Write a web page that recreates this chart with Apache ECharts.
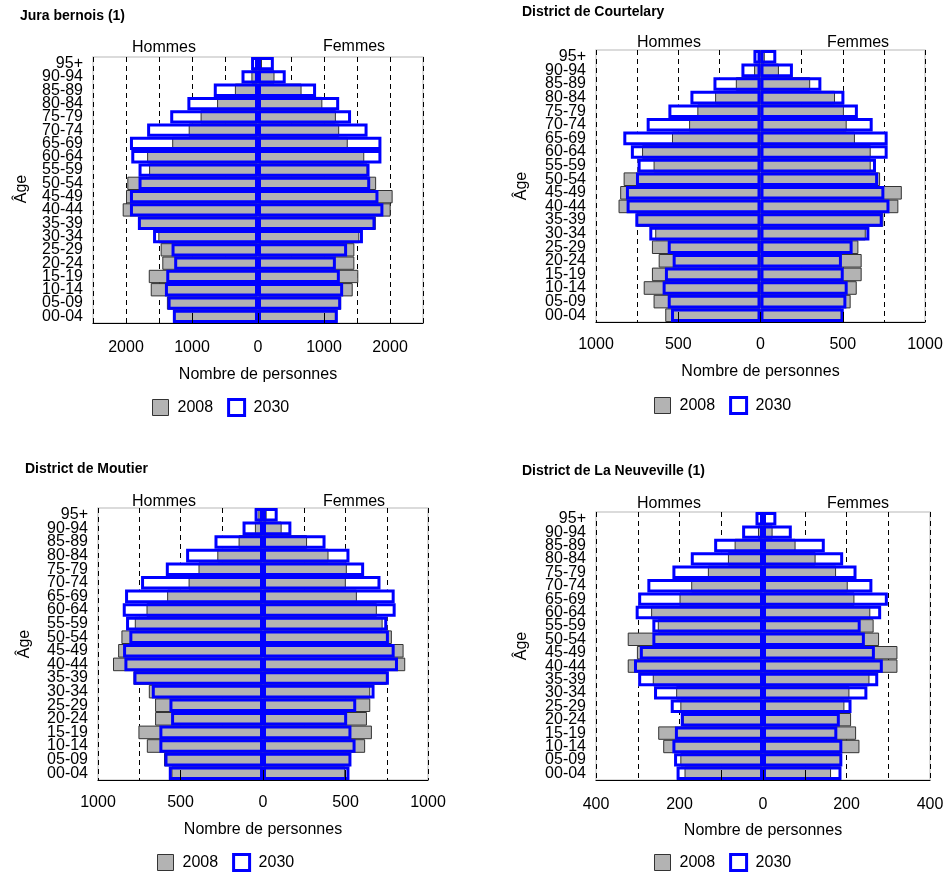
<!DOCTYPE html>
<html>
<head>
<meta charset="utf-8">
<script src="https://cdn.jsdelivr.net/npm/echarts@6/dist/echarts.min.js"></script>
<style>
html,body{margin:0;padding:0;background:#fff;}
#chart{width:948px;height:876px;}
</style>
</head>
<body>
<div id="chart"></div>
<script>
// Age groups, bottom to top
const ages = ['00-04','05-09','10-14','15-19','20-24','25-29','30-34','35-39','40-44','45-49',
              '50-54','55-59','60-64','65-69','70-74','75-79','80-84','85-89','90-94','95+'];

const panelTitles = ['Jura bernois (1)', 'District de Courtelary', 'District de Moutier', 'District de La Neuveville (1)'];

// Jura bernois (1)
const jbHommes2008 = [1285,1380,1625,1655,1450,1475,1510,1800,2050,2000,1980,1650,1680,1300,1050,870,620,350,100,30];
const jbFemmes2008 = [1180,1260,1435,1520,1460,1460,1535,1785,2010,2040,1790,1660,1610,1360,1230,1180,975,660,250,60];
const jbHommes2030 = [1290,1370,1410,1390,1270,1310,1590,1820,1940,1940,1810,1810,1920,1940,1680,1330,1070,670,250,105];
const jbFemmes2030 = [1210,1260,1290,1240,1180,1350,1590,1780,1900,1825,1700,1690,1870,1870,1660,1410,1230,880,420,240];

// District de Courtelary
const coHommes2008 = [579,650,710,660,619,660,640,755,863,853,832,650,720,538,434,384,276,150,39,14];
const coFemmes2008 = [493,548,585,615,615,595,640,747,838,859,727,670,670,574,524,507,453,302,112,26];
const coHommes2030 = [544,564,595,581,534,564,676,761,814,818,757,747,788,834,692,560,426,286,116,43];
const coFemmes2030 = [506,522,530,506,495,560,662,743,784,753,715,702,773,773,682,592,510,370,197,96];

// District de Moutier
const moHommes2008 = [555,600,704,755,654,654,692,785,909,878,858,777,706,581,451,391,277,148,49,28];
const moFemmes2008 = [498,530,619,660,630,650,650,751,862,852,781,725,690,569,502,508,397,267,113,22];
const moHommes2030 = [571,597,628,628,557,567,674,785,840,848,810,830,850,836,739,589,466,294,124,51];
const moFemmes2030 = [524,536,561,536,510,565,676,763,818,798,763,753,804,798,712,613,524,379,172,89];

// District de La Neuveville (1)
const nvHommes2008 = [188,198,239,251,192,198,208,264,324,302,324,252,268,200,172,132,84,68,12,4];
const nvFemmes2008 = [163,187,231,223,211,195,207,255,322,322,278,265,257,219,203,175,126,78,23,7];
const nvHommes2030 = [207,213,217,211,197,221,261,299,309,295,265,265,305,299,277,217,173,117,50,18];
const nvFemmes2030 = [188,190,190,178,184,212,250,276,287,268,244,234,283,299,262,224,192,148,69,32];

// Axis scales per panel: half-range, gridline step, label step, inner tick values
const axisMax   = [2500, 1000, 1000, 400];
const gridStep  = [500, 250, 250, 100];
const labelStep = [1000, 500, 500, 200];
const innerTicks = [[-1000,0,1000],[-500,0,500],[-500,0,500],[-100,0,100]];

const panelData = [
  [jbHommes2008, jbFemmes2008, jbHommes2030, jbFemmes2030],
  [coHommes2008, coFemmes2008, coHommes2030, coFemmes2030],
  [moHommes2008, moFemmes2008, moHommes2030, moFemmes2030],
  [nvHommes2008, nvFemmes2008, nvHommes2030, nvFemmes2030]
];

// Layout (pixels)
const grids = [
  {left: 93,  top: 57,  width: 330, height: 266},
  {left: 596, top: 50,  width: 329, height: 272},
  {left: 98,  top: 508, width: 330, height: 272},
  {left: 596, top: 512, width: 334, height: 268}
];
const titlePos = [{left: 20, top: 9}, {left: 522, top: 5}, {left: 25, top: 462}, {left: 522, top: 464}];
const sexLabelPos = [
  [[164, 48], [354, 47]],
  [[669, 43], [858, 43]],
  [[164, 502], [354, 502]],
  [[669, 504], [858, 504]]
];
const agePos = [[22, 189], [522, 186], [25, 644], [522, 646]];
const legendPos = [{left: 152, top: 398}, {left: 654, top: 396}, {left: 157, top: 853}, {left: 654, top: 853}];
const nameGaps = [44, 42, 42, 43];
const labelMargins = [17, 15, 15, 17];

const FONT = '"Liberation Sans", Arial, sans-serif';
const GREY = '#b3b3b3';
const BLUE = '#0000ff';

const option = {
  animation: false,
  backgroundColor: '#fff',
  textStyle: {fontFamily: FONT, color: '#000'},
  title: [],
  grid: [],
  xAxis: [],
  yAxis: [],
  legend: [],
  series: [],
  graphic: []
};

for (let p = 0; p < 4; p++) {
  const g = grids[p];
  option.grid.push(Object.assign({show: true, borderColor: '#d0d0d0', borderWidth: 1.5, backgroundColor: 'transparent', containLabel: false}, g));
  option.title.push({
    text: panelTitles[p], left: titlePos[p].left, top: titlePos[p].top, padding: 0,
    textStyle: {fontFamily: FONT, fontSize: 14, fontWeight: 'bold', color: '#000'}
  });
  const M = axisMax[p], L = labelStep[p];
  // main value axis: gridlines and labels (drawn beneath bars)
  option.xAxis.push({
    type: 'value', gridIndex: p, position: 'bottom', min: -M, max: M, interval: gridStep[p],
    axisLine: {show: false}, axisTick: {show: false},
    splitLine: {show: true, lineStyle: {color: '#000', width: 1, type: [5, 4]}},
    axisLabel: {
      fontSize: 16, color: '#000', fontFamily: FONT, margin: labelMargins[p],
      formatter: v => (Math.round(v) % L === 0 ? String(Math.abs(Math.round(v))) : '')
    },
    name: 'Nombre de personnes', nameLocation: 'middle', nameGap: nameGaps[p],
    nameTextStyle: {fontSize: 16, color: '#000', fontFamily: FONT}
  });
  // overlay axis: solid base line and inner ticks drawn above bars
  option.xAxis.push({
    type: 'value', gridIndex: p, position: 'bottom', min: -M, max: M, z: 10,
    axisLine: {show: true, onZero: false, lineStyle: {color: '#000', width: 1}},
    axisTick: {show: true, inside: true, length: 10, customValues: innerTicks[p], lineStyle: {color: '#000', width: 1}},
    axisLabel: {show: false}, splitLine: {show: false}
  });
  option.yAxis.push({
    type: 'category', gridIndex: p, data: ages,
    axisLine: {show: false}, axisTick: {show: false},
    axisLabel: {interval: 0, fontSize: 16, color: '#000', fontFamily: FONT, margin: 10, lineHeight: 14, padding: [3, 0, 0, 0]}
  });
  const [h08, f08, h30, f30] = panelData[p];
  const base = {type: 'bar', xAxisIndex: 2 * p, yAxisIndex: p, barGap: '-100%', barCategoryGap: '0%'};
  // white backing of 2030 bars
  option.series.push(Object.assign({}, base, {name: '2030 fond', silent: true, data: h30.map(v => -v), itemStyle: {color: '#fff', borderWidth: 0}}));
  option.series.push(Object.assign({}, base, {name: '2030 fond', silent: true, data: f30.slice(), itemStyle: {color: '#fff', borderWidth: 0}}));
  // 2008 grey bars
  option.series.push(Object.assign({}, base, {name: '2008', data: h08.map(v => -v), itemStyle: {color: GREY, borderColor: '#333', borderWidth: 1}}));
  option.series.push(Object.assign({}, base, {name: '2008', data: f08.slice(), itemStyle: {color: GREY, borderColor: '#333', borderWidth: 1}}));
  // 2030 blue outlines
  option.series.push(Object.assign({}, base, {name: '2030', data: h30.map(v => -v), itemStyle: {color: 'rgba(255,255,255,0)', borderColor: BLUE, borderWidth: 3}}));
  option.series.push(Object.assign({}, base, {name: '2030', data: f30.slice(), itemStyle: {color: 'rgba(255,255,255,0)', borderColor: BLUE, borderWidth: 3}}));

  option.legend.push({
    left: legendPos[p].left, top: legendPos[p].top, padding: 0, orient: 'horizontal',
    itemWidth: 16, itemHeight: 16, itemGap: 14, selectedMode: false,
    textStyle: {fontSize: 16, color: '#000', fontFamily: FONT, padding: [0, 0, 0, 4]},
    data: [
      {name: '2008', icon: 'rect', itemStyle: {color: GREY, borderColor: '#333', borderWidth: 1}},
      {name: '2030', icon: 'rect', itemStyle: {color: '#fff', borderColor: BLUE, borderWidth: 3}}
    ]
  });

  const sl = sexLabelPos[p];
  option.graphic.push({type: 'text', x: sl[0][0], y: sl[0][1], style: {text: 'Hommes', fontSize: 16, fontFamily: FONT, fill: '#000', align: 'center', verticalAlign: 'middle'}});
  option.graphic.push({type: 'text', x: sl[1][0], y: sl[1][1], style: {text: 'Femmes', fontSize: 16, fontFamily: FONT, fill: '#000', align: 'center', verticalAlign: 'middle'}});
  option.graphic.push({type: 'text', x: agePos[p][0], y: agePos[p][1], rotation: Math.PI / 2, style: {text: 'Âge', fontSize: 16, fontFamily: FONT, fill: '#000', align: 'center', verticalAlign: 'middle'}});
}

const chart = echarts.init(document.getElementById('chart'), null, {renderer: 'canvas'});
chart.setOption(option);
</script>
</body>
</html>
